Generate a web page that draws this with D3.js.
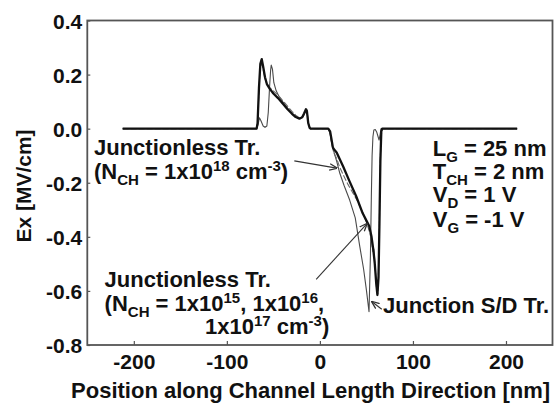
<!DOCTYPE html>
<html lang="en">
<head>
    <meta charset="UTF-8">
    <title>Ex along channel</title>
    <style>
        body { margin: 0; background: #fff; }
        text { font-family: "Liberation Sans", Arial, sans-serif; font-weight: bold; fill: #111; }
    </style>
</head>
<body>
<script src="https://cdn.jsdelivr.net/npm/d3@7"></script>

<div id="my_data"></div>

<script type="text/javascript">

    // tick labels
    var xTicks = [-200, -100, 0, 100, 200];
    var xTickLabels = ["-200", "-100", "0", "100", "200"];
    var yTicks = [0.4, 0.2, 0.0, -0.2, -0.4, -0.6, -0.8];
    var yTickLabels = ["0.4", "0.2", "0.0", "-0.2", "-0.4", "-0.6", "-0.8"];

    // Junctionless Tr., N_CH = 1e15 / 1e16 / 1e17 (overlapping, thick black)
    var jlLowDoping = [
        [-212, 0], [-68, 0], [-67, 0.02], [-65.5, 0.15], [-64, 0.24], [-62.5, 0.257],
        [-61, 0.23], [-59, 0.19], [-57, 0.165], [-54, 0.148], [-50, 0.13], [-45, 0.113],
        [-40, 0.093], [-35, 0.073], [-30, 0.055], [-26, 0.043], [-22, 0.037], [-19, 0.042],
        [-17, 0.056], [-15, 0.072], [-14, 0.066], [-12.5, 0.02], [-11, 0.003], [-10, 0],
        [9, 0], [11, -0.01], [12.5, -0.04], [14, -0.07], [16, -0.08], [18, -0.088],
        [21, -0.11], [25, -0.14], [32, -0.196], [39, -0.25], [46, -0.313], [50, -0.34],
        [53, -0.36], [55.5, -0.4], [57.5, -0.45], [59, -0.5], [60.5, -0.57], [61.8, -0.615],
        [63, -0.55], [64, -0.35], [65, -0.12], [66, -0.01], [67, 0], [212, 0]
    ];

    // Junctionless Tr., N_CH = 1e18 (thin grey, dashed look)
    var jlHighDoping = [
        [-212, 0], [-68, 0], [-67, 0.02], [-65.5, 0.14], [-64, 0.23], [-62.8, 0.245],
        [-61, 0.22], [-59, 0.185], [-57, 0.165], [-54, 0.152], [-50, 0.14], [-45, 0.124],
        [-40, 0.104], [-35, 0.084], [-30, 0.064], [-26, 0.05], [-22, 0.04], [-19, 0.043],
        [-17, 0.056], [-15, 0.07], [-14, 0.064], [-12.5, 0.02], [-11, 0.003], [-10, 0],
        [9, 0], [11, -0.015], [13, -0.06], [15, -0.09], [18, -0.11], [21, -0.14],
        [25, -0.17], [30, -0.205], [35, -0.235], [40, -0.265], [46, -0.31], [50, -0.345],
        [54, -0.39], [56, -0.43], [57, -0.455], [57.8, -0.44], [59, -0.49], [61, -0.6],
        [62.3, -0.61], [63.5, -0.45], [65, -0.1], [66.5, 0], [212, 0]
    ];

    // Junction S/D Tr. (thin grey)
    var junctionSD = [
        [-212, 0], [-68, 0], [-66.5, 0.015], [-65, 0.04], [-63.5, 0.03], [-61, 0.01],
        [-59, 0.005], [-57, 0.01], [-55.5, 0.06], [-54, 0.16], [-53, 0.215], [-52.3, 0.235],
        [-51, 0.22], [-49.5, 0.17], [-47, 0.14], [-44, 0.12], [-40, 0.1], [-35, 0.077],
        [-30, 0.057], [-25, 0.043], [-21, 0.038], [-18, 0.045], [-16, 0.06], [-15, 0.068],
        [-13.5, 0.055], [-12, 0.015], [-10.5, 0], [9, 0], [11, -0.02], [13, -0.06],
        [15, -0.085], [18, -0.12], [21.4, -0.165], [26, -0.21], [32, -0.264], [38, -0.33],
        [42.9, -0.436], [47, -0.52], [50, -0.597], [52.8, -0.677], [54.3, -0.47],
        [55.3, -0.25], [56.1, -0.1], [57, -0.03], [58, -0.005], [59.5, -0.003],
        [61, -0.012], [63.6, -0.042], [64.8, -0.02], [65.7, 0], [212, 0]
    ];

    var margin = { top: 20.5, right: 3.5, bottom: 59, left: 87.3 },
        width = 556 - margin.left - margin.right,
        height = 404 - margin.top - margin.bottom;

    var svg = d3
        .select("#my_data")
        .append("svg")
        .attr("width", 556)
        .attr("height", 404)
        .append("g")
        .attr("transform", "translate(" + margin.left + "," + margin.top + ")");

    var x = d3.scaleLinear().domain([-250, 250]).range([0, width]);
    var y = d3.scaleLinear().domain([-0.8, 0.4]).range([height, 0]);

    // arrow head
    svg.append("defs")
        .append("marker")
        .attr("id", "arrow")
        .attr("viewBox", "0 0 10 10")
        .attr("refX", 9)
        .attr("refY", 5)
        .attr("markerWidth", 8)
        .attr("markerHeight", 8)
        .attr("markerUnits", "userSpaceOnUse")
        .attr("orient", "auto")
        .append("path")
        .attr("d", "M0,1 L10,5 L0,9")
        .attr("fill", "none")
        .attr("stroke", "#333")
        .attr("stroke-width", 1.6);

    // axes
    var xAxis = svg.append("g")
        .attr("transform", "translate(0," + height + ")")
        .call(d3.axisBottom(x).tickValues(xTicks).tickSize(-4).tickPadding(9)
            .tickFormat(function(d, i) { return xTickLabels[i]; }));
    var yAxis = svg.append("g")
        .call(d3.axisLeft(y).tickValues(yTicks).tickSize(-3).tickPadding(5)
            .tickFormat(function(d, i) { return yTickLabels[i]; }));

    [xAxis, yAxis].forEach(function(a) {
        a.select(".domain").remove();
        a.selectAll(".tick line").attr("stroke", "#555").attr("stroke-width", 1.2);
        a.selectAll(".tick text")
            .style("font-family", "'Liberation Sans', Arial, sans-serif")
            .style("font-weight", "bold")
            .style("font-size", "21px")
            .attr("fill", "#111");
    });
    yAxis.selectAll(".tick text").attr("dy", "0.36em");

    // frame
    svg.append("rect")
        .attr("x", 0).attr("y", 0)
        .attr("width", width).attr("height", height)
        .attr("fill", "none")
        .attr("stroke", "#555")
        .attr("stroke-width", 1.8);

    // curves
    var line = d3.line()
        .x(function(d) { return x(d[0]); })
        .y(function(d) { return y(d[1]); });

    svg.append("path").datum(junctionSD)
        .attr("d", line).attr("fill", "none")
        .attr("stroke", "#4a4a4a").attr("stroke-width", 1.1)
        .attr("stroke-linejoin", "round");

    svg.append("path").datum(jlHighDoping)
        .attr("d", line).attr("fill", "none")
        .attr("stroke", "#6a6a6a").attr("stroke-width", 1.1)
        .attr("stroke-dasharray", "6,2")
        .attr("stroke-linejoin", "round");

    svg.append("path").datum(jlLowDoping)
        .attr("d", line).attr("fill", "none")
        .attr("stroke", "#111").attr("stroke-width", 2.3)
        .attr("stroke-linejoin", "round");

    // axis titles
    svg.append("text")
        .attr("x", x(-10))
        .attr("y", height + 53.3)
        .attr("text-anchor", "middle")
        .style("font-size", "22px")
        .text("Position along Channel Length Direction [nm]");

    svg.append("text")
        .attr("transform", "translate(" + (31 - margin.left) + "," + (186 - margin.top) + ") rotate(-90)")
        .attr("text-anchor", "middle")
        .style("font-size", "21px")
        .text("Ex [MV/cm]");

    // text with sub / superscripts
    function richText(px, py, parts) {
        var t = svg.append("text")
            .attr("x", px - margin.left)
            .attr("y", py - margin.top)
            .style("font-size", "22px");
        var shift = 0;
        parts.forEach(function(p) {
            var target = p[1] === "sub" ? 6 : p[1] === "sup" ? -8 : 0;
            t.append("tspan")
                .attr("dy", target - shift)
                .style("font-size", p[1] ? "15px" : "22px")
                .text(p[0]);
            shift = target;
        });
        return t;
    }

    richText(94, 155, [["Junctionless Tr.", ""]]);
    richText(94, 179, [["(N", ""], ["CH", "sub"], [" = 1x10", ""], ["18", "sup"], [" cm", ""], ["-3", "sup"], [")", ""]]);

    richText(104.6, 286.7, [["Junctionless Tr.", ""]]);
    richText(104.6, 311, [["(N", ""], ["CH", "sub"], [" = 1x10", ""], ["15", "sup"], [", 1x10", ""], ["16", "sup"], [",", ""]]);
    richText(205, 334, [["1x10", ""], ["17", "sup"], [" cm", ""], ["-3", "sup"], [")", ""]]);

    richText(383, 313, [["Junction S/D Tr.", ""]]);

    richText(432.7, 155.7, [["L", ""], ["G", "sub"], [" = 25 nm", ""]]);
    richText(432.7, 179, [["T", ""], ["CH", "sub"], [" = 2 nm", ""]]);
    richText(432.7, 202, [["V", ""], ["D", "sub"], [" = 1 V", ""]]);
    richText(432.7, 226.5, [["V", ""], ["G", "sub"], [" = -1 V", ""]]);

    // arrows (data coordinates)
    var arrows = [
        [[-27.5, -0.119], [18.1, -0.146]],
        [[-4, -0.557], [50.4, -0.352]],
        [[66.5, -0.668], [56, -0.64]]
    ];
    svg.selectAll(".arrow")
        .data(arrows)
        .enter()
        .append("line")
        .attr("x1", function(d) { return x(d[0][0]); })
        .attr("y1", function(d) { return y(d[0][1]); })
        .attr("x2", function(d) { return x(d[1][0]); })
        .attr("y2", function(d) { return y(d[1][1]); })
        .attr("stroke", "#333")
        .attr("stroke-width", 1.1)
        .attr("marker-end", "url(#arrow)");

</script>
</body>
</html>
